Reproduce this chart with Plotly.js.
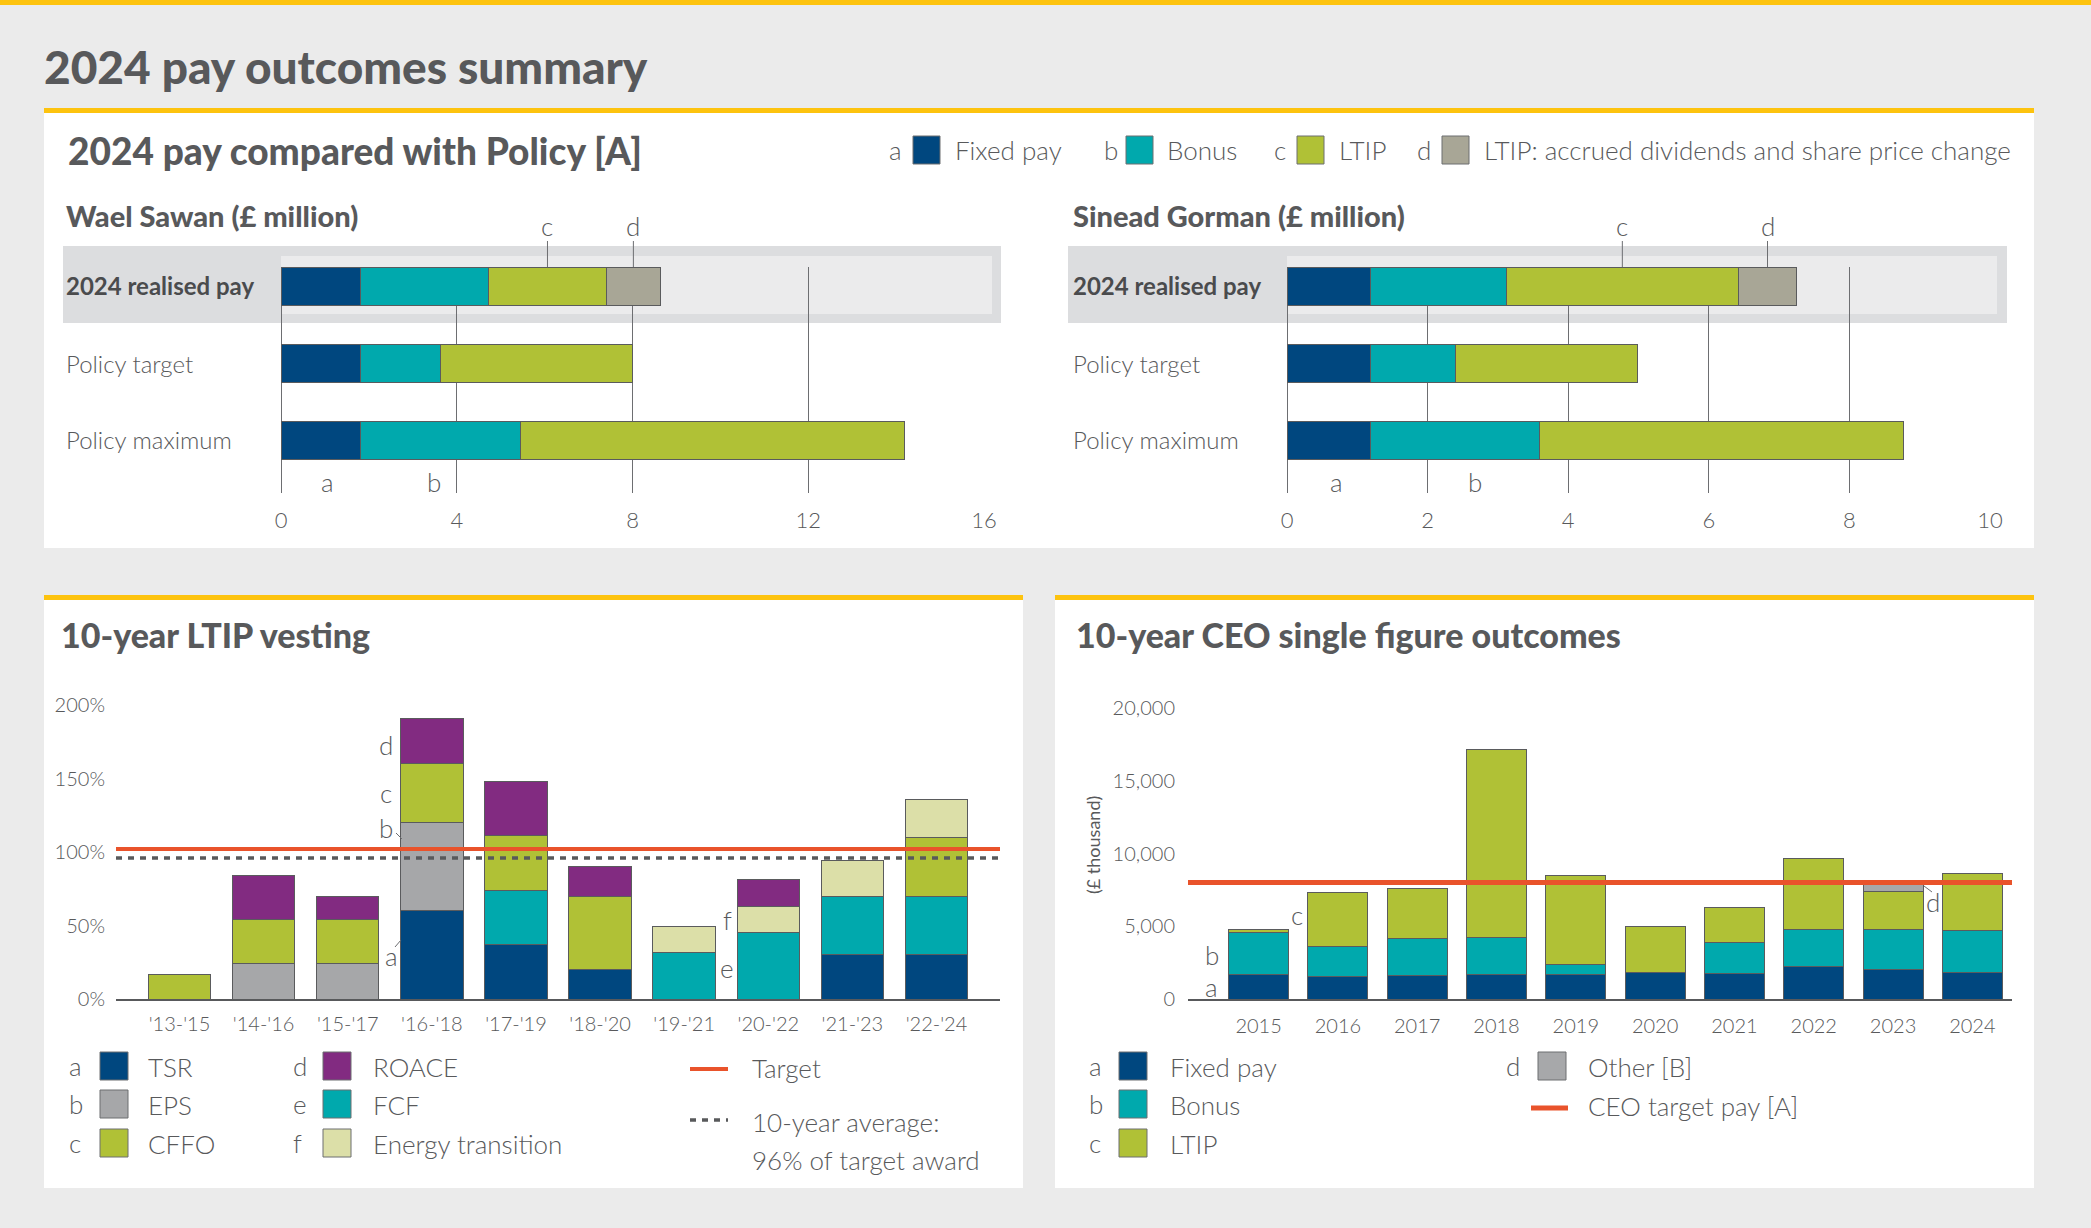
<!DOCTYPE html>
<html><head><meta charset="utf-8">
<script src="https://cdn.plot.ly/plotly-3.0.1.min.js"></script>
<style>html,body{margin:0;padding:0;background:#ebebeb;}#chart{width:2091px;height:1228px;}</style>
</head><body><div id="chart"></div>
<script>
// ---------------- data ----------------
const payRows = ["2024 realised pay", "Policy target", "Policy maximum"];
const payComponents = ["Fixed pay", "Bonus", "LTIP", "LTIP: accrued dividends and share price change"];
const payLetters = ["a", "b", "c", "d"];
const sawanFixed = [1.80, 1.80, 1.80];
const sawanBonus = [2.92, 1.83, 3.64];
const sawanLtip = [2.69, 4.36, 8.75];
const sawanAccrued = [1.22, null, null];
const gormanFixed = [1.19, 1.19, 1.19];
const gormanBonus = [1.93, 1.21, 2.40];
const gormanLtip = [3.30, 2.58, 5.18];
const gormanAccrued = [0.83, null, null];
const sawanTicks = [0, 4, 8, 12, 16];
const gormanTicks = [0, 2, 4, 6, 8, 10];

const ltipPeriods = ["'13-'15", "'14-'16", "'15-'17", "'16-'18", "'17-'19", "'18-'20", "'19-'21", "'20-'22", "'21-'23", "'22-'24"];
const ltipMeasures = ["TSR", "EPS", "FCF", "CFFO", "Energy transition", "ROACE"];
const ltipTSR = [null, null, null, 60, 37, 20, null, null, 30, 30];
const ltipEPS = [null, 24, 24, 60, null, null, null, null, null, null];
const ltipFCF = [null, null, null, null, 37, null, 31.4, 45, 40, 40];
const ltipCFFO = [16.4, 30, 30, 40, 37, 50, null, null, null, 40];
const ltipET = [null, null, null, null, null, null, 17.7, 18, 24, 26];
const ltipROACE = [null, 30, 16, 30.5, 37.3, 20, null, 18, null, null];
const ltipTarget = 102;
const ltipAverage = 96;
const ltipTicks = [0, 50, 100, 150, 200];

const ceoYears = ["2015", "2016", "2017", "2018", "2019", "2020", "2021", "2022", "2023", "2024"];
const ceoFixed = [1650, 1560, 1600, 1650, 1670, 1830, 1720, 2200, 2060, 1790];
const ceoBonus = [2930, 2040, 2590, 2565, 710, null, 2175, 2610, 2730, 2950];
const ceoLtip = [185, 3730, 3390, 12945, 6120, 3140, 2380, 4880, 2590, 3900];
const ceoOther = [null, null, null, null, null, null, null, null, 570, null];
const ceoTargetPay = 8000;
const ceoTicks = [0, 5000, 10000, 15000, 20000];

// ---------------- style ----------------
const W = 2091, H = 1228;
const px = v => v / W, py = v => 1 - v / H;
const FONT = "Lato, 'Open Sans', sans-serif";
const TXT = "#58595b";
const LIGHT = 300;
const C = {navy: "#00477f", teal: "#00a9ad", green: "#b0c136", accrued: "#a8a696",
  eps: "#a6a7a9", roace: "#822b81", et: "#dcdfa8", other: "#a7a8aa", red: "#e9532b", yellow: "#fdc30f"};
const OUT = {color: "#5a5b5d", width: 1};

const traces = [];
function hbars(vals, color, xa, ya) {
  traces.push({type: "bar", orientation: "h", y: payRows.map((_, i) => i), x: vals, width: 0.5,
    marker: {color: color, line: OUT}, xaxis: xa, yaxis: ya, showlegend: false, hoverinfo: "skip"});
}
const payColors = [C.navy, C.teal, C.green, C.accrued];
[sawanFixed, sawanBonus, sawanLtip, sawanAccrued].forEach((v, i) => hbars(v, payColors[i], "x", "y"));
[gormanFixed, gormanBonus, gormanLtip, gormanAccrued].forEach((v, i) => hbars(v, payColors[i], "x2", "y2"));

function vbars(xs, vals, color, xa, ya, w) {
  traces.push({type: "bar", x: xs, y: vals, width: w, marker: {color: color, line: OUT},
    xaxis: xa, yaxis: ya, showlegend: false, hoverinfo: "skip"});
}
const ltipSeries = [ltipTSR, ltipEPS, ltipFCF, ltipCFFO, ltipET, ltipROACE];
const ltipColors = [C.navy, C.eps, C.teal, C.green, C.et, C.roace];
ltipSeries.forEach((v, i) => vbars(ltipPeriods, v, ltipColors[i], "x3", "y3", 0.743));
const ceoSeries = [ceoFixed, ceoBonus, ceoLtip, ceoOther];
const ceoNames = ["Fixed pay", "Bonus", "LTIP", "Other [B]"];
const ceoColors = [C.navy, C.teal, C.green, C.other];
ceoSeries.forEach((v, i) => vbars(ceoYears, v, ceoColors[i], "x4", "y4", 0.757));

// ---------------- shapes / annotations ----------------
const shapes = [], ann = [];
function rect(x0, y0, x1, y1, fill, line, layer) {
  shapes.push({type: "rect", xref: "paper", yref: "paper", x0: px(x0), x1: px(x1), y0: py(y1), y1: py(y0),
    fillcolor: fill, line: line || {width: 0}, layer: layer || "below"});
}
function seg(x0, y0, x1, y1, color, width, dash) {
  shapes.push({type: "line", xref: "paper", yref: "paper", x0: px(x0), x1: px(x1), y0: py(y0), y1: py(y1),
    line: {color: color, width: width, dash: dash || "solid"}, layer: "above"});
}
function txt(x, y, text, size, o) {
  o = o || {};
  ann.push({xref: "paper", yref: "paper", x: px(x), y: py(y), text: text, showarrow: false,
    xanchor: o.xa || "left", yanchor: "middle", textangle: o.angle || 0,
    font: {family: FONT, size: size, color: o.color || TXT, weight: o.weight || LIGHT}});
}
// panels
rect(0, 0, W, 5, C.yellow);
rect(44, 108, 2034, 113, C.yellow);
rect(44, 113, 2034, 548, "#ffffff");
rect(44, 595, 1023, 600, C.yellow);
rect(44, 600, 1023, 1188, "#ffffff");
rect(1055, 595, 2034, 600, C.yellow);
rect(1055, 600, 2034, 1188, "#ffffff");
// highlight bands
rect(63, 246, 1001, 323, "#dcdddf");
rect(281, 256, 992, 314, "#ebebec");
rect(1068, 246, 2007, 323, "#dcdddf");
rect(1287, 256, 1997, 314, "#ebebec");

// titles
txt(42, 66, "2024 pay outcomes summary", 46, {weight: 900});
txt(66, 150, "2024 pay compared with Policy [A]", 37, {weight: 900});
txt(64, 216, "Wael Sawan (£ million)", 29, {weight: 900});
txt(1071, 216, "Sinead Gorman (£ million)", 29, {weight: 900});
txt(59, 634, "10-year LTIP vesting", 34, {weight: 900});
txt(1074, 634, "10-year CEO single figure outcomes", 34, {weight: 900});

// row labels
const rowY = [285, 363, 440];
payRows.forEach((r, i) => {
  const o = i === 0 ? {weight: 700, color: "#4a4b4d"} : {};
  txt(64, rowY[i], r, 24, o);
  txt(1071, rowY[i], r, 24, o);
});

// top legend
const topLegLetterX = [887, 1102, 1272, 1415], topLegSqX = [913, 1126, 1297, 1442], topLegTxtX = [953, 1165, 1337, 1482];
payComponents.forEach((n, i) => {
  txt(topLegLetterX[i], 150, payLetters[i], 26);
  rect(topLegSqX[i], 136, topLegSqX[i] + 27, 164, payColors[i], {color: "#6d6e71", width: 1}, "above");
  txt(topLegTxtX[i], 150, n, 26);
});

// segment letters in top charts
function segLabels(xa, fixed, bonus, ltip, acc, aX, bX) {
  const cMid = fixed[0] + bonus[0] + ltip[0] / 2;
  const dMid = fixed[0] + bonus[0] + ltip[0] + acc[0] / 2;
  [[cMid, "c"], [dMid, "d"]].forEach(([v, t]) => {
    ann.push({xref: xa, yref: "paper", x: v, y: py(226), text: t, showarrow: false, xanchor: "center", yanchor: "middle",
      font: {family: FONT, size: 26, color: TXT, weight: LIGHT}});
    shapes.push({type: "line", xref: xa, yref: "paper", x0: v, x1: v, y0: py(241), y1: py(267), line: {color: "#6d6e71", width: 1}});
  });
  [[aX, "a"], [bX, "b"]].forEach(([v, t]) => {
    ann.push({xref: xa, yref: "paper", x: v, y: py(482), text: t, showarrow: false, xanchor: "center", yanchor: "middle",
      font: {family: FONT, size: 26, color: TXT, weight: LIGHT}});
  });
}
segLabels("x", sawanFixed, sawanBonus, sawanLtip, sawanAccrued, 1.05, 3.49);
segLabels("x2", gormanFixed, gormanBonus, gormanLtip, gormanAccrued, 0.70, 2.68);

// reference lines
shapes.push({type: "line", xref: "x3 domain", yref: "y3", x0: 0, x1: 1, y0: ltipTarget, y1: ltipTarget,
  line: {color: C.red, width: 4}, layer: "above"});
shapes.push({type: "line", xref: "x3 domain", yref: "y3", x0: 0, x1: 1, y0: ltipAverage, y1: ltipAverage,
  line: {color: "#58595b", width: 3.5, dash: "6px,6px"}, layer: "above"});
shapes.push({type: "line", xref: "x4 domain", yref: "y4", x0: 0, x1: 1, y0: ceoTargetPay, y1: ceoTargetPay,
  line: {color: C.red, width: 5}, layer: "above"});

// chart letters
function dl(xa, ya, x, y, t) {
  ann.push({xref: xa, yref: ya, x: x, y: y, text: t, showarrow: false, xanchor: "center", yanchor: "middle",
    font: {family: FONT, size: 26, color: TXT, weight: LIGHT}});
}
dl("x3", "y3", 2.46, 173, "d");
dl("x3", "y3", 2.46, 140, "c");
dl("x3", "y3", 2.46, 116, "b");
dl("x3", "y3", 2.52, 29, "a");
dl("x3", "y3", 6.52, 54, "f");
dl("x3", "y3", 6.51, 21, "e");
seg(396, 833, 402, 839, "#6d6e71", 1);
seg(395, 947, 401, 940, "#6d6e71", 1);
dl("x4", "y4", -0.59, 830, "a");
dl("x4", "y4", -0.59, 3020, "b");
dl("x4", "y4", 0.49, 5770, "c");
dl("x4", "y4", 8.51, 6650, "d");
seg(1932, 892, 1924, 886, "#6d6e71", 1);

// y title CEO
txt(1093, 845, "(£ thousand)", 18, {xa: "center", angle: -90, weight: 400});

// LTIP legend
const ltipLegLetters = ["a", "b", "c", "d", "e", "f"];
const ltipLegOrder = [0, 1, 3, 5, 2, 4]; // TSR, EPS, CFFO | ROACE, FCF, Energy transition
const legRowY = [1066, 1104, 1143];
ltipLegOrder.forEach((si, k) => {
  const col = Math.floor(k / 3), row = k % 3;
  const lx = [67, 291][col], sx = [100, 323][col], tx = [146, 371][col];
  txt(lx, legRowY[row], ltipLegLetters[k], 26);
  rect(sx, legRowY[row] - 14, sx + 28, legRowY[row] + 14, ltipColors[si], {color: "#6d6e71", width: 1}, "above");
  txt(tx, legRowY[row] + 1, ltipMeasures[si], 26);
});
seg(690, 1069, 728, 1069, C.red, 4);
txt(750, 1068, "Target", 26);
seg(690, 1120, 728, 1120, "#58595b", 3.5, "6px,6px");
txt(750, 1122, "10-year average:", 26);
txt(750, 1160, ltipAverage + "% of target award", 26);

// CEO legend
const ceoLegLetters = ["a", "b", "c", "d"];
ceoNames.forEach((n, i) => {
  const col = i < 3 ? 0 : 1, row = i < 3 ? i : 0;
  const lx = [1087, 1504][col], sx = [1119, 1538][col], tx = [1168, 1586][col];
  txt(lx, legRowY[row], ceoLegLetters[i], 26);
  rect(sx, legRowY[row] - 14, sx + 28, legRowY[row] + 14, ceoColors[i], {color: "#6d6e71", width: 1}, "above");
  txt(tx, legRowY[row] + 1, n, 26);
});
seg(1531, 1108, 1568, 1108, C.red, 5);
txt(1586, 1106, "CEO target pay [A]", 26);

// ---------------- axes ----------------
const tickFont = {family: FONT, size: 22, color: TXT, weight: LIGHT};
const smallTick = {family: FONT, size: 20, color: TXT, weight: LIGHT};
const topX = (dom, rng, tv) => ({domain: dom, range: rng, tickvals: tv, showgrid: true, gridcolor: "#6d6e71", gridwidth: 1,
  zeroline: true, zerolinecolor: "#6d6e71", zerolinewidth: 1, showline: false, ticks: "outside", ticklen: 8,
  tickcolor: "rgba(0,0,0,0)", tickfont: tickFont, fixedrange: true});
const topY = (anchor) => ({domain: [py(493), py(267)], range: [2.68, -0.25], visible: false, anchor: anchor, fixedrange: true});

const layout = {
  width: W, height: H, margin: {l: 0, r: 0, t: 0, b: 0}, paper_bgcolor: "#ebebeb", plot_bgcolor: "rgba(0,0,0,0)",
  barmode: "stack", showlegend: false, font: {family: FONT, color: TXT},
  xaxis: Object.assign(topX([px(281), px(984)], [0, 16], sawanTicks), {anchor: "y"}),
  yaxis: topY("x"),
  xaxis2: Object.assign(topX([px(1287), px(1990)], [0, 10], gormanTicks), {anchor: "y2"}),
  yaxis2: topY("x2"),
  xaxis3: {domain: [px(116), px(1000)], range: [-0.755, 9.755], type: "category", anchor: "y3", showgrid: false, zeroline: false,
    showline: true, linecolor: "#58595b", linewidth: 1.5, ticks: "outside", ticklen: 6, tickcolor: "rgba(0,0,0,0)",
    tickfont: smallTick, fixedrange: true},
  yaxis3: {domain: [py(999), py(705)], range: [0, 200], anchor: "x3", tickmode: "array", tickvals: ltipTicks,
    ticktext: ltipTicks.map(v => v + "%"), showgrid: false,
    zeroline: false, showline: false, ticks: "outside", ticklen: 6, tickcolor: "rgba(0,0,0,0)",
    tickfont: smallTick, fixedrange: true},
  xaxis4: {domain: [px(1188), px(2012)], range: [-0.89, 9.5], type: "category", anchor: "y4", showgrid: false, zeroline: false,
    showline: true, linecolor: "#58595b", linewidth: 1.5, ticks: "outside", ticklen: 8, tickcolor: "rgba(0,0,0,0)",
    tickfont: smallTick, fixedrange: true},
  yaxis4: {domain: [py(999), py(708)], range: [0, 20000], anchor: "x4", tickmode: "array", tickvals: ceoTicks,
    ticktext: ceoTicks.map(v => v.toLocaleString("en-GB")), showgrid: false,
    zeroline: false, showline: false, ticks: "outside", ticklen: 8, tickcolor: "rgba(0,0,0,0)",
    tickfont: smallTick, fixedrange: true},
  shapes: shapes, annotations: ann
};
Plotly.newPlot("chart", traces, layout, {displayModeBar: false, staticPlot: true});
</script></body></html>
